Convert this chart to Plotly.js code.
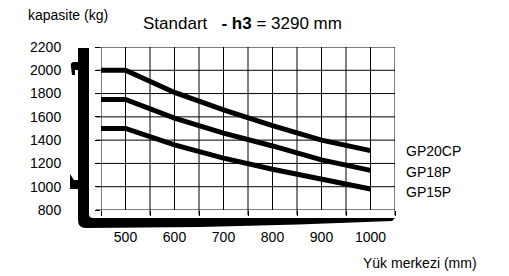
<!DOCTYPE html>
<html>
<head>
<meta charset="utf-8">
<script src="https://cdn.plot.ly/plotly-3.0.1.min.js"></script>
<style>html,body{margin:0;padding:0;background:#fff;}#chart{width:509px;height:276px;}</style>
</head>
<body>
<div id="chart"></div>
<script>
// Data
const loadCenters = [450, 500, 600, 700, 800, 900, 1000];
const gp20cp = [2000, 2000, 1810, 1660, 1525, 1400, 1310];
const gp18p  = [1750, 1750, 1590, 1460, 1350, 1230, 1140];
const gp15p  = [1500, 1500, 1360, 1245, 1150, 1065, 980];
const seriesNames = ['GP20CP', 'GP18P', 'GP15P'];
const xTickVals = [500, 600, 700, 800, 900, 1000];
const xTickText = ['500', '600', '700', '800', '900', '1000'];
const xMinorVals = [450, 550, 650, 750, 850, 950, 1050];
const yTickVals = [800, 1000, 1200, 1400, 1600, 1800, 2000, 2200];
const yTickText = ['800', '1000', '1200', '1400', '1600', '1800', '2000', '2200'];

const W = 509, H = 276;
const M = {l: 101, r: 114, t: 47, b: 66};
const PW = W - M.l - M.r, PH = H - M.t - M.b;
const FONT = 'Liberation Sans, Arial, sans-serif';
const TICK = 5;

function px(x) { return (x - M.l) / PW; }
function py(y) { return (H - M.b - y) / PH; }
function path(cmds) {
  const f = v => v.toFixed(4);
  return cmds.map(c => {
    if (c[0] === 'Z') return 'Z';
    if (c[0] === 'Q') return 'Q' + f(px(c[1])) + ',' + f(py(c[2])) + ' ' + f(px(c[3])) + ',' + f(py(c[4]));
    return c[0] + f(px(c[1])) + ',' + f(py(c[2]));
  }).join(' ');
}

const allSeries = [gp20cp, gp18p, gp15p];
const traces = allSeries.map((ys, i) => ({
  type: 'scatter', mode: 'lines', x: loadCenters, y: ys, name: seriesNames[i],
  line: {color: '#000', width: 5}, hoverinfo: 'skip'
}));

// grid drawn as shapes tied to the axis values
const gridLine = {color: '#000', width: 1};
const shapes = [];
xTickVals.forEach(v => shapes.push({type: 'line', xref: 'x', yref: 'paper', x0: v, x1: v, y0: 0, y1: 1, line: gridLine, layer: 'above'}));
xMinorVals.forEach(v => shapes.push({type: 'line', xref: 'x', yref: 'paper', x0: v, x1: v, y0: -TICK / PH, y1: 1, line: gridLine, layer: 'above'}));
yTickVals.forEach(v => shapes.push({type: 'line', xref: 'paper', yref: 'y', x0: -TICK / PW, x1: 1, y0: v, y1: v, line: gridLine, layer: 'above'}));

// decorative mast frame
const frame = path([
  ['M', 78, 48], ['L', 89, 48], ['L', 89, 214], ['Q', 89, 218, 93, 218],
  ['L', 395, 218], ['L', 392, 221], ['Q', 300, 225, 200, 227], ['L', 86, 228],
  ['Q', 78, 228, 78, 220], ['Z']
]);
const tabTop = path([
  ['M', 79, 62], ['L', 73, 62], ['Q', 70, 63, 71, 67], ['L', 72, 75], ['L', 75, 75],
  ['L', 75, 70], ['L', 79, 70], ['Z']
]);
const tabBottom = path([
  ['M', 70, 174], ['L', 74, 180], ['L', 79, 180], ['L', 79, 189], ['L', 70, 189], ['Z']
]);
[frame, tabTop, tabBottom].forEach(p => shapes.push({
  type: 'path', xref: 'paper', yref: 'paper', path: p,
  fillcolor: '#000', line: {width: 0}, layer: 'above'
}));

const annotations = [
  {xref: 'paper', yref: 'paper', x: px(26), y: py(15), xanchor: 'left', yanchor: 'middle',
   text: 'kapasite (kg)', showarrow: false, font: {family: FONT, size: 14, color: '#000'}},
  {xref: 'paper', yref: 'paper', x: px(479), y: py(263), xanchor: 'right', yanchor: 'middle',
   text: 'Yük merkezi (mm)', showarrow: false, font: {family: FONT, size: 14, color: '#000'}}
];
allSeries.forEach((ys, i) => {
  annotations.push({
    xref: 'x', yref: 'y', x: 1050, y: ys[ys.length - 1], xanchor: 'left', yanchor: 'middle',
    xshift: 9, yshift: [0, -1.5, -2.7][i],
    text: seriesNames[i], showarrow: false, font: {family: FONT, size: 14, color: '#000'}
  });
});

const layout = {
  width: W, height: H,
  margin: M,
  paper_bgcolor: '#fff', plot_bgcolor: '#fff',
  showlegend: false,
  font: {family: FONT, size: 14, color: '#000'},
  title: {
    text: 'Standart\u00a0\u00a0 <b>- h3</b> = 3290 mm',
    font: {family: FONT, size: 17, color: '#000'},
    xref: 'paper', x: px(143), xanchor: 'left',
    yref: 'container', y: 1 - 23 / H, yanchor: 'middle'
  },
  xaxis: {
    range: [450, 1050], tickmode: 'array', tickvals: xTickVals, ticktext: xTickText,
    ticks: '', showgrid: false, showline: false,
    zeroline: false, ticklabelstandoff: 17,
    tickfont: {family: FONT, size: 14, color: '#000'},
    minor: {tickmode: 'array', tickvals: xMinorVals, ticks: 'outside', ticklen: TICK, tickwidth: 1,
            tickcolor: '#000', showgrid: false},
    fixedrange: true
  },
  yaxis: {
    range: [800, 2200], tickmode: 'array', tickvals: yTickVals, ticktext: yTickText,
    ticks: 'outside', ticklen: TICK, tickwidth: 1, tickcolor: '#000',
    showgrid: false, showline: false,
    zeroline: false, ticklabelstandoff: 31,
    tickfont: {family: FONT, size: 14, color: '#000'},
    fixedrange: true
  },
  shapes: shapes,
  annotations: annotations
};

Plotly.newPlot('chart', traces, layout, {displayModeBar: false, staticPlot: true});
</script>
</body>
</html>
